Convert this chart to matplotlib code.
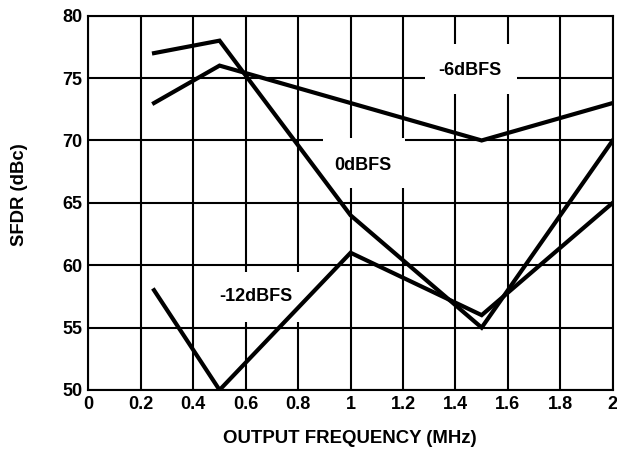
import matplotlib
matplotlib.use('Agg')
import matplotlib.pyplot as plt
from matplotlib.patches import Rectangle

freq = [0.25, 0.5, 1.0, 1.5, 2.0]
sfdr_6dbfs = [73, 76, 73, 70, 73]
sfdr_0dbfs = [77, 78, 64, 55, 70]
sfdr_12dbfs = [58, 50, 61, 56, 65]

xticks = [0, 0.2, 0.4, 0.6, 0.8, 1, 1.2, 1.4, 1.6, 1.8, 2]
xtick_labels = ['0', '0.2', '0.4', '0.6', '0.8', '1', '1.2', '1.4', '1.6', '1.8', '2']
yticks = [50, 55, 60, 65, 70, 75, 80]

plt.rcParams['font.family'] = ['Liberation Sans', 'DejaVu Sans']
plt.rcParams['font.weight'] = 'bold'

fig = plt.figure(figsize=(6.17, 4.49), dpi=100)
ax = fig.add_axes([88.5 / 617, 1 - 390 / 449, 524.2 / 617, 374.3 / 449])

ax.set_xlim(0, 2)
ax.set_ylim(50, 80)
ax.set_xticks(xticks)
ax.set_xticklabels(xtick_labels)
ax.set_yticks(yticks)
ax.set_axisbelow(True)
ax.grid(True, color='black', linewidth=1.5)
ax.tick_params(length=0, labelsize=13, pad=4.5)
for s in ax.spines.values():
    s.set_linewidth(1.5)
    s.set_zorder(4)

# white boxes behind the curve labels (they blank out the grid)
for (x0, x1, y0, y1) in [(1.284, 1.635, 73.76, 77.76),
                         (0.895, 1.208, 66.16, 70.16),
                         (0.475, 0.807, 55.44, 59.44)]:
    ax.add_patch(Rectangle((x0, y0), x1 - x0, y1 - y0, facecolor='white',
                           edgecolor='none', zorder=1))

for vals in (sfdr_6dbfs, sfdr_0dbfs, sfdr_12dbfs):
    ax.plot(freq, vals, color='black', linewidth=3, solid_joinstyle='miter', zorder=2)

ax.text(1.456, 75.6, '-6dBFS', fontsize=13, fontweight='bold', ha='center', va='center', zorder=3)
ax.text(1.047, 68.0, '0dBFS', fontsize=13, fontweight='bold', ha='center', va='center', zorder=3)
ax.text(0.639, 57.46, '-12dBFS', fontsize=13, fontweight='bold', ha='center', va='center', zorder=3)

fig.text(350 / 617, 1 - 442.7 / 449, 'OUTPUT FREQUENCY (MHz)', fontsize=13.4,
         fontweight='bold', ha='center', va='baseline')
fig.text(19.5 / 617, 1 - 194.5 / 449, 'SFDR (dBc)', fontsize=13.3,
         fontweight='bold', ha='center', va='center', rotation=90)

fig.savefig('out.png', dpi=100)
